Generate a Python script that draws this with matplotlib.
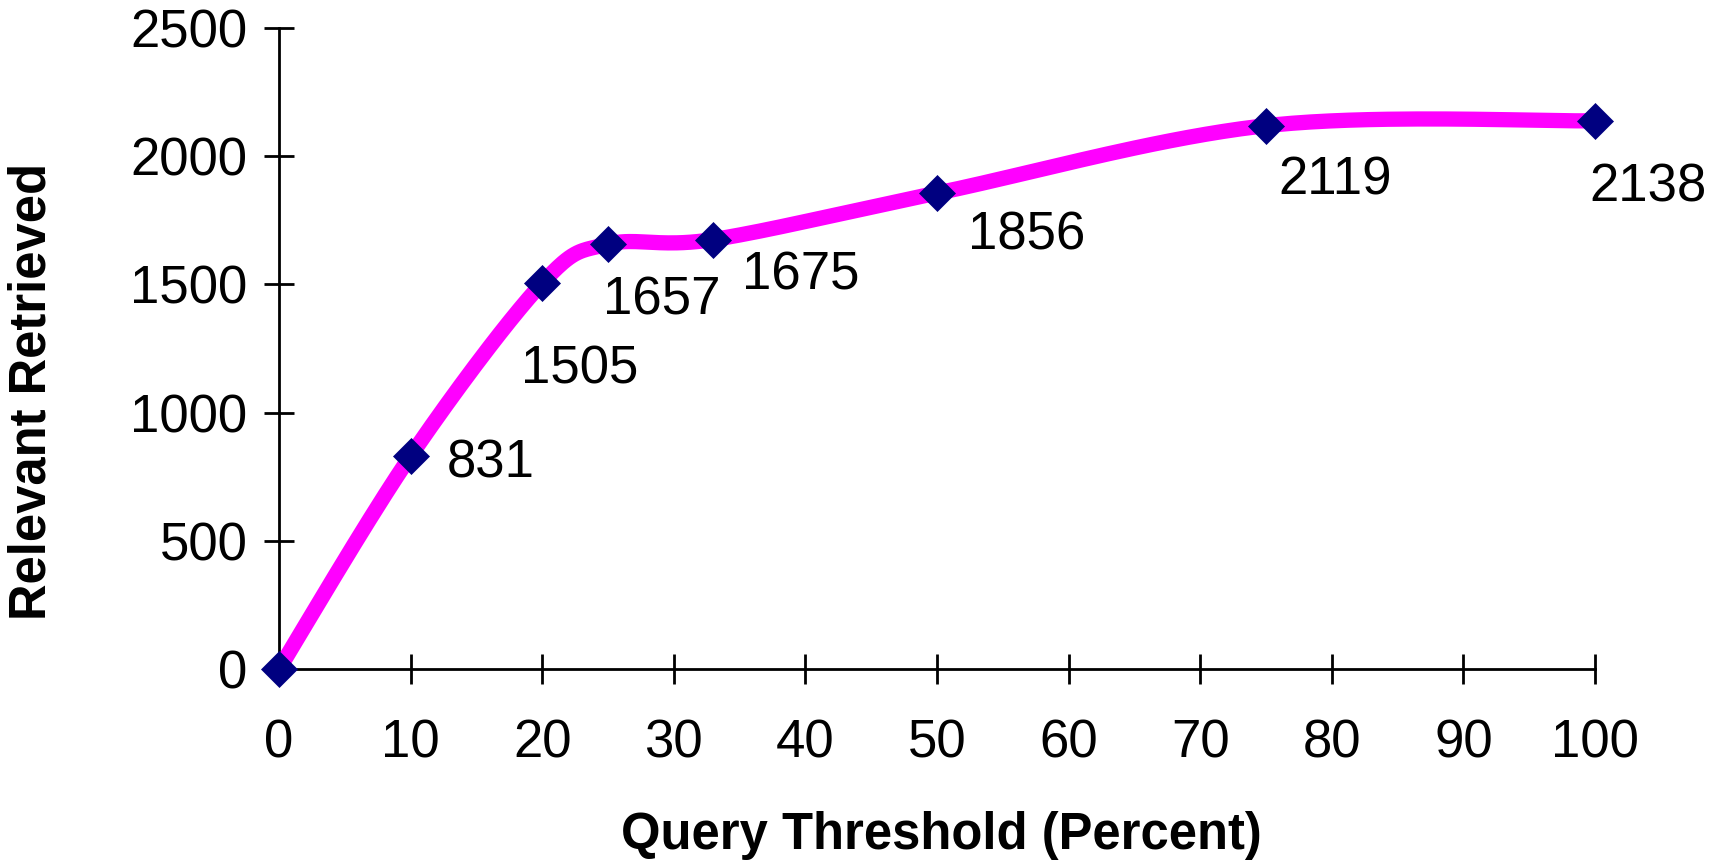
import numpy as np
import matplotlib
matplotlib.use("Agg")
import matplotlib.pyplot as plt

# Data
thresholds = [0, 10, 20, 25, 33, 50, 75, 100]
relevant = [0, 831, 1505, 1657, 1675, 1856, 2119, 2138]
x_ticks = [0, 10, 20, 30, 40, 50, 60, 70, 80, 90, 100]
y_ticks = [0, 500, 1000, 1500, 2000, 2500]

# label offsets (pixels, relative to marker; label centre) - styling only
label_offsets = [None, (80, -2), (37, -81), (54, -51), (87, -30), (90, -37), (69, -49), (53, -61)]

plt.rcParams['font.family'] = ['Liberation Sans', 'DejaVu Sans']

W, H, DPI = 1721, 861, 100
fig = plt.figure(figsize=(W / DPI, H / DPI), dpi=DPI)
left, right, bottom, top = 279 / W, 1595 / W, 1 - 669 / H, 1 - 28 / H
ax = fig.add_axes([left, bottom, right - left, top - bottom])
ax.set_xlim(0, 100)
ax.set_ylim(0, 2500)


def excel_smooth(xs, ys, ax, n=40):
    # Catmull-Rom style Bezier smoothing computed in display space
    pts = ax.transData.transform(np.column_stack([xs, ys]))
    P = np.vstack([pts[0], pts, pts[-1]])
    out = [pts[0]]
    t = np.linspace(0, 1, n)[1:]
    for i in range(1, len(P) - 2):
        p0, p1, p2, p3 = P[i - 1], P[i], P[i + 1], P[i + 2]
        c1 = p1 + (p2 - p0) / 6.0
        c2 = p2 - (p3 - p1) / 6.0
        for tt in t:
            b = ((1 - tt) ** 3) * p1 + 3 * ((1 - tt) ** 2) * tt * c1 + 3 * (1 - tt) * tt ** 2 * c2 + tt ** 3 * p2
            out.append(b)
    out = np.array(out)
    return ax.transData.inverted().transform(out)


sm = excel_smooth(thresholds, relevant, ax)
ax.plot(sm[:, 0], sm[:, 1], color='#FF00FF', lw=11, solid_capstyle='butt',
        solid_joinstyle='round', clip_on=False, zorder=3)
ax.plot(thresholds, relevant, linestyle='none', marker='D', ms=18,
        color='#000080', mec='#000080', mew=0.5, clip_on=False, zorder=4)

for xv, yv, off in zip(thresholds, relevant, label_offsets):
    if off is None:
        continue
    ax.annotate(str(yv), (xv, yv), xytext=(off[0], off[1]), textcoords='offset pixels',
                ha='center', va='center_baseline', fontsize=38, color='black', zorder=5)

for s in ['top', 'right']:
    ax.spines[s].set_visible(False)
for s in ['left', 'bottom']:
    ax.spines[s].set_linewidth(2)
    ax.spines[s].set_color('black')

ax.set_xticks(x_ticks)
ax.set_yticks(y_ticks)
ax.set_xticklabels([str(v) for v in x_ticks])
ax.set_yticklabels([str(v) for v in y_ticks])
ax.tick_params(axis='both', direction='inout', length=21.6, width=2, labelsize=38, colors='black')
ax.tick_params(axis='x', pad=25)
ax.tick_params(axis='y', pad=12)

ax.set_xlabel('Query Threshold (Percent)', fontsize=36.5, fontweight='bold')
ax.set_ylabel('Relevant Retrieved', fontsize=36.5, fontweight='bold')
ax.xaxis.set_label_coords(941 / W, 1 - 836 / H, transform=fig.transFigure)
ax.xaxis.label.set_va('center')
ax.yaxis.set_label_coords(32 / W, 1 - 391 / H, transform=fig.transFigure)
ax.yaxis.label.set_va('center')

fig.savefig('out.png', dpi=DPI)
